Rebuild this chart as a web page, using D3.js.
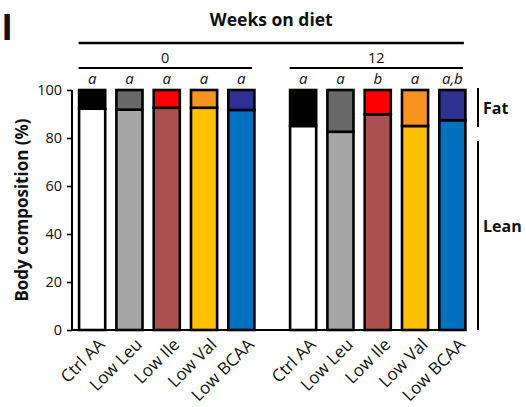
<!DOCTYPE html>
<html>
<head>
<meta charset="utf-8">
<script src="https://cdn.jsdelivr.net/npm/d3@7"></script>
<style>
  html, body { margin: 0; padding: 0; background: #fff; }
  svg text { font-family: "Open Sans", Lato, sans-serif; fill: #111; }
</style>
</head>
<body>
<svg id="chart" width="526" height="407"></svg>
<script>
// Diet groups and weeks
const weeks = ["0", "12"];
const diets = ["Ctrl AA", "Low Leu", "Low Ile", "Low Val", "Low BCAA"];

// Lean mass share (%) per diet; fat fills the rest up to 100 %
const lean0 = [92.2, 91.8, 92.6, 92.6, 91.7];
const lean12 = [85.0, 82.6, 89.9, 85.0, 87.4];
const total = 100;

// Statistical letters above each bar
const letters0 = ["a", "a", "a", "a", "a"];
const letters12 = ["a", "a", "b", "a", "a,b"];

const yTicks = [0, 20, 40, 60, 80, 100];

const fatColors = ["#000000", "#686868", "#ff0000", "#f7941d", "#2e3192"];
const leanColors = ["#ffffff", "#a6a6a6", "#ab4f4f", "#ffc000", "#0070c0"];

const rows = [];
weeks.forEach((w, wi) => {
  const lean = wi === 0 ? lean0 : lean12;
  const lets = wi === 0 ? letters0 : letters12;
  diets.forEach((d, i) => {
    rows.push({ week: w, diet: d, i, lean: lean[i], fat: total - lean[i], letter: lets[i] });
  });
});

const svg = d3.select("#chart");

const y = d3.scaleLinear().domain([0, 100]).range([330, 90]);
const xWeek = d3.scaleBand().domain(weeks).range([73.5, 471]).paddingInner(0.116).paddingOuter(0);
const xDiet = d3.scaleBand().domain(diets).range([0, xWeek.bandwidth()]).paddingInner(0.3).paddingOuter(0.15);
const barX = r => xWeek(r.week) + xDiet(r.diet);
const bw = xDiet.bandwidth();

// Panel letter
svg.append("text").attr("x", 2).attr("y", 40)
  .style("font-family", "'Liberation Sans', Arial, sans-serif")
  .attr("font-size", 37).attr("font-weight", "bold").text("I");

// Bars: lean segment at the bottom, fat segment on top
const bars = svg.append("g");
bars.selectAll("rect.lean").data(rows).join("rect")
  .attr("class", "lean")
  .attr("x", barX).attr("width", bw)
  .attr("y", d => y(d.lean)).attr("height", d => y(0) - y(d.lean))
  .attr("fill", d => leanColors[d.i])
  .attr("stroke", "#000").attr("stroke-width", 2.6);
bars.selectAll("rect.fat").data(rows).join("rect")
  .attr("class", "fat")
  .attr("x", barX).attr("width", bw)
  .attr("y", d => y(d.lean + d.fat)).attr("height", d => y(d.lean) - y(d.lean + d.fat))
  .attr("fill", d => fatColors[d.i])
  .attr("stroke", "#000").attr("stroke-width", 2.6);

// Y axis
const yAxis = svg.append("g").attr("transform", "translate(72,0)")
  .call(d3.axisLeft(y).tickValues(yTicks).tickSize(5).tickPadding(5));
yAxis.select(".domain").remove();
yAxis.selectAll("line").attr("stroke", "#000").attr("stroke-width", 1.6);
yAxis.selectAll("text").attr("font-size", 14.5).style("font-family", "'Open Sans', sans-serif").attr("fill", "#111");
svg.append("line").attr("x1", 72).attr("x2", 72).attr("y1", y(100)).attr("y2", y(0))
  .attr("stroke", "#000").attr("stroke-width", 2);
// X baseline
svg.append("line").attr("x1", 71).attr("x2", 465).attr("y1", y(0)).attr("y2", y(0))
  .attr("stroke", "#000").attr("stroke-width", 2.2);

// Y title
svg.append("text")
  .attr("transform", `translate(28,${(y(0) + y(100)) / 2}) rotate(-90)`)
  .attr("text-anchor", "middle").attr("font-size", 17).attr("font-weight", "bold")
  .text("Body composition (%)");

// Category labels, rotated
svg.append("g").selectAll("text").data(rows).join("text")
  .attr("transform", d => `translate(${barX(d) + bw / 2 + 5},${y(0) + 7}) rotate(-45)`)
  .attr("text-anchor", "end").attr("font-size", 17).attr("dy", "0.72em")
  .text(d => d.diet);

// Significance letters
svg.append("g").selectAll("text").data(rows).join("text")
  .attr("x", d => barX(d) + bw / 2).attr("y", 84)
  .attr("text-anchor", "middle").attr("font-size", 15).attr("font-style", "italic")
  .text(d => d.letter);

// Week brackets
weeks.forEach(w => {
  const x0 = xWeek(w) + xDiet(diets[0]) - 0.5;
  const x1 = xWeek(w) + xDiet(diets[diets.length - 1]) + bw - 2.5;
  svg.append("line").attr("x1", x0).attr("x2", x1).attr("y1", 68).attr("y2", 68)
    .attr("stroke", "#000").attr("stroke-width", 2);
  svg.append("text").attr("x", (x0 + x1) / 2).attr("y", 63)
    .attr("text-anchor", "middle").attr("font-size", 14.5).text(w);
});
const wx0 = xWeek(weeks[0]) + xDiet(diets[0]) - 0.5;
const wx1 = xWeek(weeks[1]) + xDiet(diets[diets.length - 1]) + bw - 1.5;
svg.append("line").attr("x1", wx0).attr("x2", wx1).attr("y1", 43).attr("y2", 43)
  .attr("stroke", "#000").attr("stroke-width", 2.4);
svg.append("text").attr("x", (wx0 + wx1) / 2).attr("y", 26)
  .attr("text-anchor", "middle").attr("font-size", 17.5).attr("font-weight", "bold")
  .text("Weeks on diet");

// Fat / Lean brackets on the right
const bx = 478;
svg.append("line").attr("x1", bx).attr("x2", bx).attr("y1", 88).attr("y2", 127)
  .attr("stroke", "#000").attr("stroke-width", 2);
svg.append("line").attr("x1", bx).attr("x2", bx).attr("y1", 141).attr("y2", 330)
  .attr("stroke", "#000").attr("stroke-width", 2);
svg.append("text").attr("x", 483).attr("y", 108).attr("dy", "0.35em")
  .attr("font-size", 16).attr("font-weight", "bold").text("Fat");
svg.append("text").attr("x", 483).attr("y", 226).attr("dy", "0.35em")
  .attr("font-size", 16).attr("font-weight", "bold").text("Lean");
</script>
</body>
</html>
